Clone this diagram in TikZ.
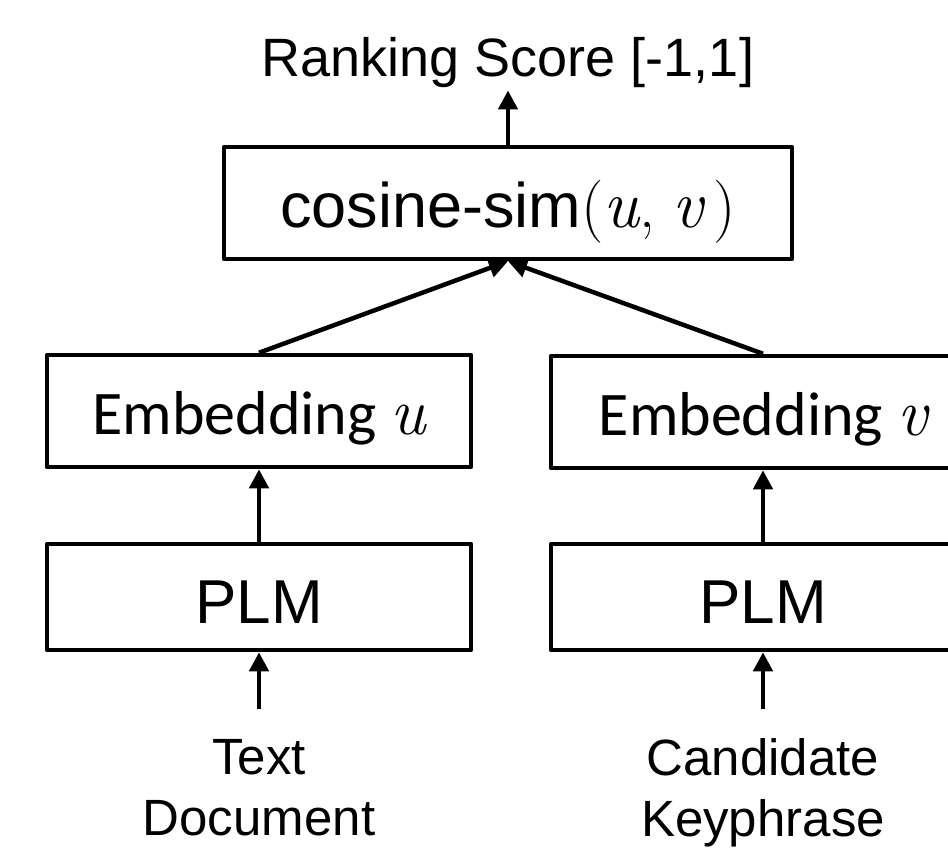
\documentclass[tikz,border=0pt]{standalone}
\usepackage{fontspec}
\setsansfont{Liberation Sans}
\newfontfamily\calibrifont{Carlito}
\usetikzlibrary{arrows.meta}

\tikzset{
  box/.style={draw, line width=4.5pt, line join=round, inner sep=0pt,
              minimum width=424pt, minimum height=112pt, text depth=0pt},
  conn/.style={line width=4.5pt, -{Triangle[length=19pt,width=19pt]}},
  label/.style={inner sep=0pt, font=\sffamily\fontsize{51}{61}\selectfont, align=center},
}
\newcommand{\vari}[1]{{\rmfamily\itshape\scalebox{1.08}{#1}}}

\begin{document}
\begin{tikzpicture}[x=1pt,y=-1pt]
\useasboundingbox (0,0) rectangle (948,847);
\clip (0,0) rectangle (948,847);

% output score
\node[inner sep=0pt, anchor=base, font=\sffamily\fontsize{54}{60}\selectfont]
  (score) at (508,76) {Ranking Score [-1,1]};

% similarity block
\node[box, minimum width=568pt, text height=48pt, font=\fontsize{63}{70}\selectfont]
  (cos) at (508,203) {\sffamily cosine-sim\rmfamily(\vari{u},\;\vari{v}\,)};

% embeddings
\node[box, text height=46pt, font=\calibrifont\fontsize{62}{70}\selectfont]
  (embU) at (259,411) {Embedding \vari{u}};
\node[box, text height=46pt, font=\calibrifont\fontsize{62}{70}\selectfont]
  (embV) at (763,412) {Embedding \vari{v}};

% encoders
\node[box, minimum height=106pt, text height=52pt, font=\sffamily\fontsize{62}{70}\selectfont]
  (plmU) at (259,597) {PLM};
\node[box, minimum height=106pt, text height=52pt, font=\sffamily\fontsize{62}{70}\selectfont]
  (plmV) at (763,597) {PLM};

% inputs
\node[label, anchor=north] (docU) at (259,739) {Text\\Document};
\node[label, anchor=north] (docV) at (763,738) {Candidate\\Keyphrase};

% connectors
\draw[conn, shorten >=3pt] (cos.north) -- (score.south);
\draw[conn] (embU.north) -- (cos.south);
\draw[conn] (embV.north) -- (cos.south);
\draw[conn] (plmU.north) -- (embU.south);
\draw[conn] (plmV.north) -- (embV.south);
\draw[conn, shorten <=30pt] (docU.north) -- (plmU.south);
\draw[conn, shorten <=29pt] (docV.north) -- (plmV.south);
\end{tikzpicture}
\end{document}
